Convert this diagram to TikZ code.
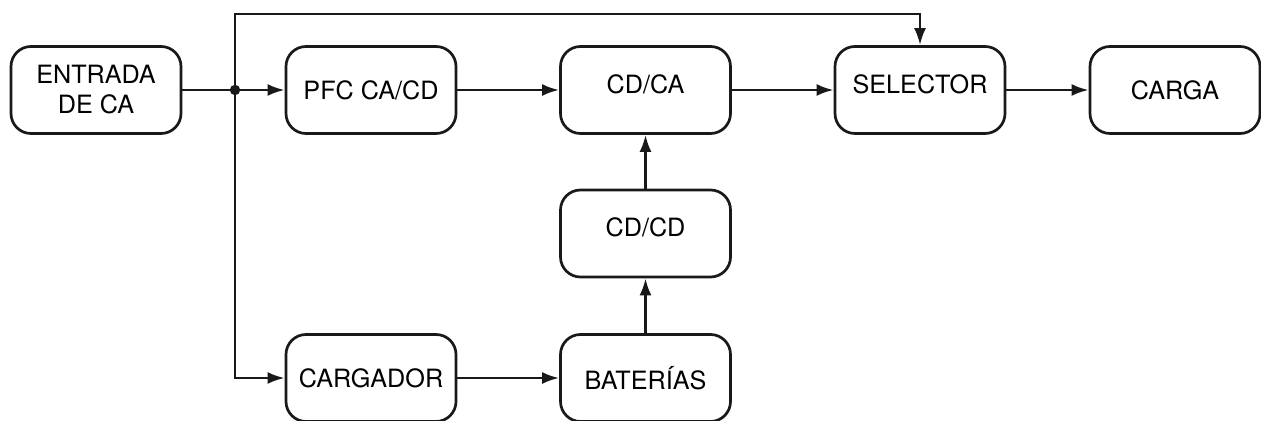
\documentclass[tikz,border=0pt]{standalone}
\usepackage{fontspec}
\setmainfont{TeX Gyre Heros}
\usetikzlibrary{arrows.meta,calc}
\tikzset{>={Latex[length=8.5pt,width=6pt]}}
\tikzstyle{block}=[rectangle,draw=black!90,line width=1.35pt,minimum width=85pt,minimum height=43.5pt,rounded corners=10pt,inner sep=1pt,font=\fontsize{12.6}{15}\selectfont,align=center]
\tikzstyle{blockup}=[block,text depth=6pt]
\tikzstyle{wire}=[line width=1.35pt,draw=black!90]

\begin{document}
\begin{tikzpicture}[x=0.5pt,y=-0.5pt]
    \useasboundingbox (0,0) rectangle (1261,421);

    % upper row
    \node[block] (ent) at (96,90) {ENTRADA\\DE CA};
    \node[block] (pfc) at (371,90) {PFC CA/CD};
    \node[blockup] (dcac) at (645.5,90) {CD/CA};
    \node[blockup] (sel) at (920,90) {SELECTOR};
    \node[block] (load) at (1175,90) {CARGA};

    % middle and lower row
    \node[blockup] (dcdc) at (645.5,233.5) {CD/CD};
    \node[block] (chg) at (371,378) {CARGADOR};
    \node[block] (bat) at (645.5,378) {BATER\'IAS};

    \coordinate (jn) at (235,90);
    \coordinate (tp) at (235,14);
    \fill[black!90] (jn) circle (2.6pt);

    \draw[wire] (ent) -- (jn);
    \draw[wire,->] (jn) -- (pfc);
    \draw[wire,->] (jn) -- (tp) -| (sel);
    \draw[wire,->] (jn) |- (chg);

    \draw[wire,->] (pfc) -- (dcac);
    \draw[wire,->] (dcac) -- (sel);
    \draw[wire,->] (sel) -- (load);
    \draw[wire,->] (chg) -- (bat);
    \draw[wire,->] (bat) -- (dcdc);
    \draw[wire,->] (dcdc) -- (dcac);
\end{tikzpicture}
\end{document}
